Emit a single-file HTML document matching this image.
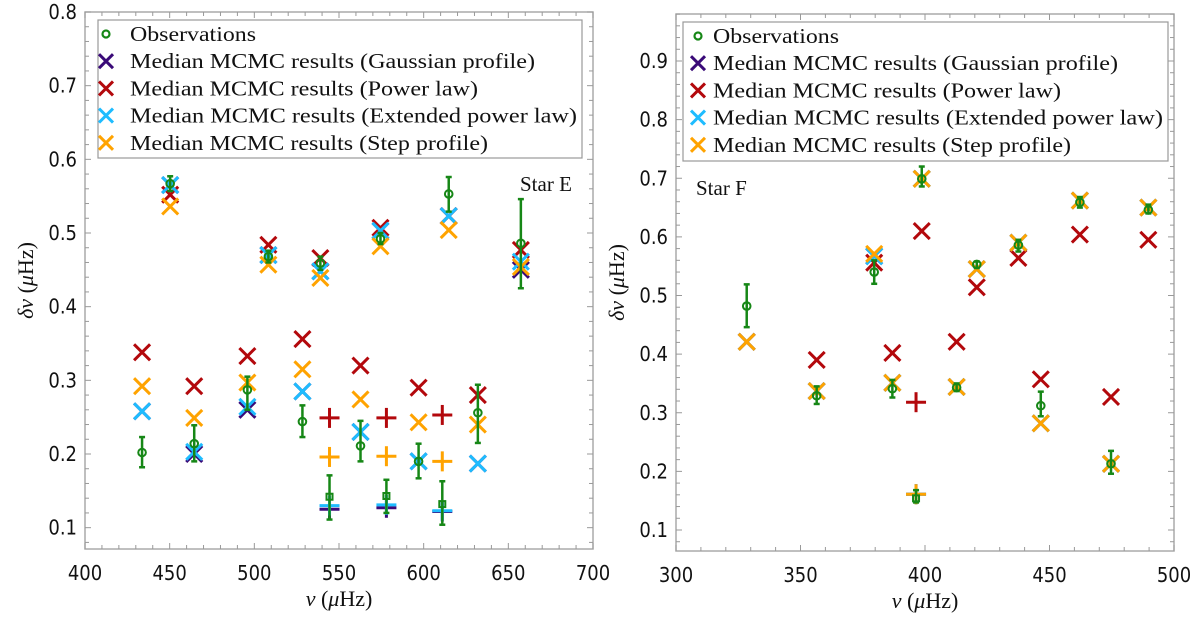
<!DOCTYPE html>
<html><head><meta charset="utf-8"><style>
body{margin:0;background:#fff;width:1200px;height:624px;overflow:hidden}
svg{display:block}
.tk{font-family:"DejaVu Sans Condensed","DejaVu Sans","Liberation Sans",sans-serif;font-size:20px;fill:#111}
.sf{font-family:"Liberation Serif","DejaVu Serif",serif;fill:#111}
</style></head><body>
<svg id="chart" width="1200" height="624" viewBox="0 0 1200 624" xmlns="http://www.w3.org/2000/svg"></svg>
<script>
// ---- Star E data ----
const freqE = [433.7,450.3,464.5,495.9,508.3,528.4,539,544.4,562.7,574.5,578,597,611,614.8,632,657.4];
const obsE  = [0.202,0.567,0.214,0.287,0.468,0.244,0.459,0.142,0.211,0.492,0.143,0.190,0.132,0.553,0.256,0.486];
const obsLoE= [0.182,0.557,0.190,0.260,0.460,0.223,0.450,0.111,0.190,0.485,0.120,0.167,0.104,0.529,0.215,0.425];
const obsHiE= [0.223,0.577,0.239,0.305,0.476,0.266,0.468,0.171,0.245,0.500,0.165,0.214,0.163,0.576,0.294,0.546];
const gaussE= [0.258,0.565,0.200,0.260,0.470,0.285,0.448,0.125,0.230,0.503,0.127,0.190,0.122,0.523,0.187,0.450];
const powE  = [0.338,0.552,0.292,0.333,0.484,0.356,0.466,0.249,0.320,0.507,0.249,0.290,0.253,0.523,0.280,0.477];
const extE  = [0.258,0.565,0.203,0.264,0.470,0.285,0.448,0.130,0.230,0.503,0.131,0.190,0.123,0.523,0.187,0.461];
const stepE = [0.292,0.536,0.249,0.297,0.457,0.315,0.439,0.196,0.274,0.482,0.197,0.243,0.190,0.504,0.240,0.454];
const kindE = ['x','x','x','x','x','x','x','+','x','x','+','x','+','x','x','x'];
const xTicksE = [400,450,500,550,600,650,700];
const yTicksE = [0.1,0.2,0.3,0.4,0.5,0.6,0.7,0.8];
// ---- Star F data ----
const freqF = [328.4,356.5,379.6,386.9,396.4,398.7,412.7,420.8,437.5,446.5,462.2,474.7,489.7];
const obsF  = [0.482,0.329,0.540,0.341,0.154,0.699,0.343,0.553,0.586,0.312,0.659,0.213,0.646];
const obsLoF= [0.446,0.315,0.520,0.326,0.147,0.686,0.337,0.547,0.575,0.294,0.650,0.196,0.640];
const obsHiF= [0.519,0.345,0.560,0.356,0.168,0.720,0.350,0.558,0.595,0.336,0.668,0.235,0.655];
const gaussF= [0.421,0.337,0.567,0.351,0.161,0.699,0.344,0.545,0.590,0.282,0.662,0.213,0.650];
const powF  = [0.421,0.390,0.556,0.402,0.318,0.610,0.421,0.514,0.564,0.357,0.604,0.327,0.595];
const extF  = [0.421,0.337,0.567,0.351,0.161,0.699,0.344,0.545,0.590,0.282,0.662,0.213,0.650];
const stepF = [0.421,0.337,0.571,0.351,0.161,0.699,0.344,0.545,0.590,0.282,0.662,0.213,0.650];
const kindF = ['x','x','x','x','+','x','x','x','x','x','x','x','x'];
const xTicksF = [300,350,400,450,500];
const yTicksF = [0.1,0.2,0.3,0.4,0.5,0.6,0.7,0.8,0.9];
const legendLabels = ['Observations','Median MCMC results (Gaussian profile)','Median MCMC results (Power law)','Median MCMC results (Extended power law)','Median MCMC results (Step profile)'];

const NS='http://www.w3.org/2000/svg';
const svg=document.getElementById('chart');
const C={g:'#3a0a78',p:'#b3080c',e:'#1ebcff',s:'#ffa300',o:'#168716'};
function mk(tag,attrs,parent){const el=document.createElementNS(NS,tag);for(const k in attrs)el.setAttribute(k,attrs[k]);(parent||svg).appendChild(el);return el;}

function drawX(g,cx,cy,col,kind,r){
  if(kind==='+'){
    mk('line',{x1:cx-r-2,y1:cy,x2:cx+r+2,y2:cy,stroke:col,'stroke-width':3},g);
    mk('line',{x1:cx,y1:cy-r-2,x2:cx,y2:cy+r+2,stroke:col,'stroke-width':3},g);
  } else {
    mk('line',{x1:cx-r,y1:cy-r,x2:cx+r,y2:cy+r,stroke:col,'stroke-width':3},g);
    mk('line',{x1:cx-r,y1:cy+r,x2:cx+r,y2:cy-r,stroke:col,'stroke-width':3},g);
  }
}

function panel(P){
  const X=v=>P.x0+(v-P.xmin)*(P.x1-P.x0)/(P.xmax-P.xmin);
  const Y=v=>P.yA+(P.vA-v)*(P.yB-P.yA)/(P.vA-P.vB);
  const root=mk('g',{});
  
  
  const fr=mk('rect',{x:P.x0,y:P.top,width:P.x1-P.x0,height:P.bot-P.top,fill:'none',stroke:'#aaa','stroke-width':1.5},root);
  
  
  const xg=mk('g',{},root);
  
  
  for(let v=P.xmin;v<=P.xmax+0.01;v+=10){
    const maj=(Math.round(v)%50===0), L=maj?6:4;
    mk('line',{x1:X(v),y1:P.bot,x2:X(v),y2:P.bot-L,stroke:'#999','stroke-width':1},xg);
    mk('line',{x1:X(v),y1:P.top,x2:X(v),y2:P.top+L,stroke:'#999','stroke-width':1},xg);
  }
  P.xt.forEach(v=>{const t=mk('text',{x:X(v),y:P.bot+31,'text-anchor':'middle',class:'tk'},xg);t.textContent=v;
    
    });
  const yg=mk('g',{},root);
  
  
  for(let i=0;i<60;i++){const v=0.06+i*0.02; const y=Y(v); if(y<P.top||y>P.bot)continue;
    const maj=Math.abs(v*10-Math.round(v*10))<0.01, L=maj?6:4;
    mk('line',{x1:P.x0,y1:y,x2:P.x0+L,y2:y,stroke:'#999','stroke-width':1},yg);
    mk('line',{x1:P.x1,y1:y,x2:P.x1-L,y2:y,stroke:'#999','stroke-width':1},yg);}
  P.yt.forEach(v=>{const t=mk('text',{x:P.x0-8,y:Y(v)+7,'text-anchor':'end',class:'tk'},yg);t.textContent=v.toFixed(1);
    
    });
  const xt=mk('text',{x:(P.x0+P.x1)/2,y:P.bot+57,'text-anchor':'middle',class:'sf','font-size':22},root);
  xt.innerHTML='<tspan font-style="italic">ν</tspan> (<tspan font-style="italic">μ</tspan>Hz)';
  
  
  const yt=mk('text',{x:0,y:0,'text-anchor':'middle',class:'sf','font-size':22,transform:`translate(${P.x0-52},${(P.top+P.bot)/2}) rotate(-90)`},root);
  yt.innerHTML='<tspan font-style="italic">δν</tspan> (<tspan font-style="italic">μ</tspan>Hz)';
  
  
  const D=P.d;
  [['g','gauss-series'],['p','power-law-series'],['e','extended-power-law-series'],['s','step-profile-series']].forEach(([k,nm])=>{
    const sg=mk('g',{},root);
    
    
    D.f.forEach((f,i)=>{const m=mk('g',{},sg);
      
      
      drawX(m,X(f),Y(D[k][i]),C[k],D.kind[i],8);});
  });
  const og=mk('g',{},root);
  
  
  D.f.forEach((f,i)=>{const x=X(f),m=mk('g',{},og);
    
    
    mk('line',{x1:x,y1:Y(D.lo[i]),x2:x,y2:Y(D.hi[i]),stroke:C.o,'stroke-width':2.5},m);
    mk('line',{x1:x-3,y1:Y(D.lo[i]),x2:x+3,y2:Y(D.lo[i]),stroke:C.o,'stroke-width':2.5},m);
    mk('line',{x1:x-3,y1:Y(D.hi[i]),x2:x+3,y2:Y(D.hi[i]),stroke:C.o,'stroke-width':2.5},m);
    if(D.kind[i]==='+') mk('rect',{x:x-3,y:Y(D.o[i])-3,width:6,height:6,fill:'none',stroke:C.o,'stroke-width':2},m);
    else mk('circle',{cx:x,cy:Y(D.o[i]),r:3.8,fill:'none',stroke:C.o,'stroke-width':2},m);
  });
  const sl=mk('text',{x:P.sx,y:P.sy,class:'sf','font-size':21},root);sl.textContent=P.star;
  
  
  const lg=mk('g',{},root);
  
  
  mk('rect',{x:P.lx,y:P.ly,width:P.lw,height:P.lh,fill:'#fff',stroke:'#999','stroke-width':1.2},lg);
  const cols=[C.o,C.g,C.p,C.e,C.s];
  legendLabels.forEach((lab,i)=>{const y=P.ly+14+i*27.2;const e=mk('g',{},lg);
    
    
    if(i===0) mk('circle',{cx:P.mx,cy:y,r:3.5,fill:'none',stroke:C.o,'stroke-width':2.2},e);
    else drawX(e,P.mx,y,cols[i],'x',7);
    const t=mk('text',{x:P.tx,y:y+7,class:'sf','font-size':21.5,textLength:P.tl[i],lengthAdjust:'spacingAndGlyphs'},e);t.textContent=lab;});
}
panel({name:'panel-star-e',x0:85,x1:593,xmin:400,xmax:700,top:12,bot:549,yA:12,vA:0.8,yB:454,vB:0.2,xt:xTicksE,yt:yTicksE,
  d:{f:freqE,o:obsE,lo:obsLoE,hi:obsHiE,g:gaussE,p:powE,e:extE,s:stepE,kind:kindE},
  star:'Star E',sx:520,sy:191,lx:98,ly:20,lw:484,lh:138,mx:106,tx:130,tl:[126,405,348,447,358]});
panel({name:'panel-star-f',x0:676,x1:1174,xmin:300,xmax:500,top:14,bot:551,yA:61,vA:0.9,yB:530,vB:0.1,xt:xTicksF,yt:yTicksF,
  d:{f:freqF,o:obsF,lo:obsLoF,hi:obsHiF,g:gaussF,p:powF,e:extF,s:stepF,kind:kindF},
  star:'Star F',sx:696,sy:195,lx:683,ly:22,lw:485,lh:139,mx:698,tx:713,tl:[126,405,348,450,358]});
</script>
</body></html>
